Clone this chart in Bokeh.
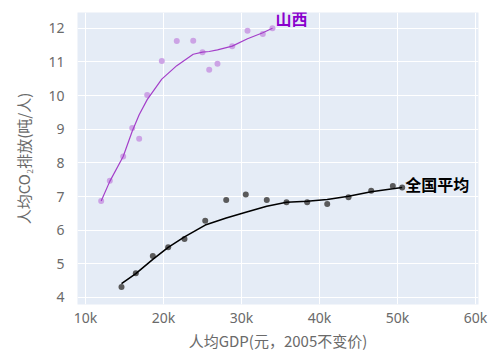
from bokeh.plotting import figure
from bokeh.models import Range1d, FixedTicker
from bokeh.core.properties import value
from bokeh.embed import file_html
from bokeh.resources import INLINE

# Shanxi
sx_gdp = [12010, 13115, 14830, 15990, 16880, 17910, 19780, 21700, 23810, 25000,
          25860, 26920, 28810, 30770, 32730, 33970]
sx_co2 = [6.87, 7.47, 8.19, 9.04, 8.72, 10.02, 11.03, 11.62, 11.63, 11.29,
          10.77, 10.95, 11.47, 11.93, 11.83, 12.0]
sx_fit = [6.87, 7.45, 8.19, 8.94, 9.43, 9.88, 10.49, 10.89, 11.23, 11.29,
          11.31, 11.36, 11.47, 11.69, 11.87, 12.0]

# National average
cn_gdp = [14615, 16450, 18630, 20600, 22690, 25350, 28040, 30550, 33240, 35770,
          38420, 40990, 43720, 46630, 49400, 50600]
cn_co2 = [4.31, 4.72, 5.23, 5.49, 5.74, 6.28, 6.90, 7.06, 6.90, 6.83,
          6.83, 6.78, 6.98, 7.17, 7.31, 7.27]
cn_fit = [4.41, 4.71, 5.13, 5.49, 5.80, 6.15, 6.36, 6.53, 6.71, 6.83,
          6.86, 6.91, 7.01, 7.14, 7.23, 7.27]

x_ticks = [10000, 20000, 30000, 40000, 50000, 60000]
x_tick_labels = ["10k", "20k", "30k", "40k", "50k", "60k"]
y_ticks = [4, 5, 6, 7, 8, 9, 10, 11, 12]

label_sx = "山西"
label_cn = "全国平均"
x_title = "人均GDP(元，2005不变价)"
y_title = "人均CO₂排放(吨/人)"

FONT = "Noto Sans CJK SC"
TICK_FONT = "Noto Sans"
X0, X1 = 8974, 60385
Y0, Y1 = 3.79, 12.47

p = figure(width=488, height=353, output_backend="svg", toolbar_location=None,
           x_range=Range1d(X0, X1), y_range=Range1d(Y0, Y1),
           min_border_left=77, min_border_right=10, min_border_top=12, min_border_bottom=48)
p.background_fill_color = "#E5ECF6"
p.border_fill_color = "white"
p.outline_line_color = None

for ax in (p.xaxis[0], p.yaxis[0]):
    ax.axis_line_color = None
    ax.major_tick_line_color = None
    ax.minor_tick_line_color = None
    ax.major_tick_out = 0
    ax.major_tick_in = 0
    ax.major_label_text_color = "#6a6a6a"
    ax.major_label_text_font = TICK_FONT
    ax.major_label_text_font_size = "14px"
    ax.axis_label_text_color = "#6a6a6a"
    ax.axis_label_text_font = FONT
    ax.axis_label_text_font_size = "15px"
    ax.axis_label_text_font_style = "normal"

p.xaxis.ticker = FixedTicker(ticks=x_ticks)
p.xaxis.major_label_overrides = {t: l for t, l in zip(x_ticks, x_tick_labels)}
p.yaxis.ticker = FixedTicker(ticks=y_ticks)
p.xaxis.axis_label = x_title
p.yaxis.axis_label = y_title
p.xaxis.major_label_standoff = 3
p.xaxis.axis_label_standoff = 0
p.yaxis.major_label_standoff = 13
p.yaxis.axis_label_standoff = 11
p.xgrid.grid_line_color = "white"
p.ygrid.grid_line_color = "white"
p.xgrid.grid_line_width = 1
p.ygrid.grid_line_width = 1

p.scatter(sx_gdp, sx_co2, size=6, color="#c99be3", alpha=0.9, line_color=None)
p.line(sx_gdp, sx_fit, line_color="#a43fc9", line_width=1.2)
p.scatter(cn_gdp, cn_co2, size=6, color="#4a4a4a", alpha=0.9, line_color=None)
p.line(cn_gdp, cn_fit, line_color="black", line_width=1.6)

p.text([sx_gdp[-1]], [sx_fit[-1]], text=[label_sx], x_offset=3, y_offset=-10,
       text_font=value(FONT), text_font_size="16px", text_font_style="bold",
       text_color="#8a00cc", text_align="left", text_baseline="middle")
p.text([cn_gdp[-1]], [cn_fit[-1]], text=[label_cn], x_offset=3, y_offset=-3,
       text_font=value(FONT), text_font_size="16px", text_font_style="bold",
       text_color="black", text_align="left", text_baseline="middle")

open("out.html", "w").write(file_html(p, INLINE))
